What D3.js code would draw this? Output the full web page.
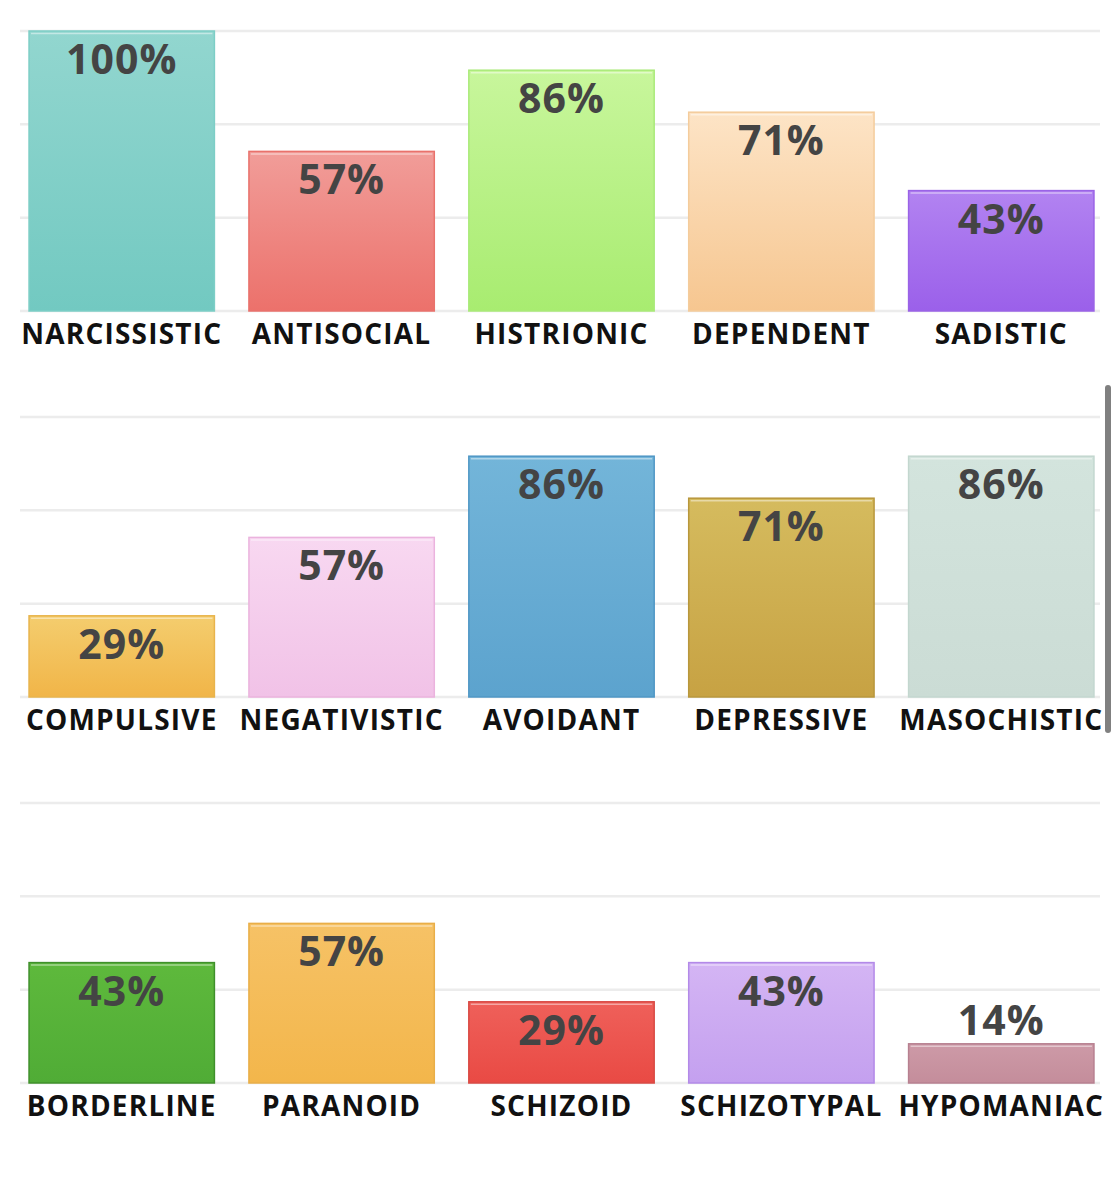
<!DOCTYPE html>
<html>
<head>
<meta charset="utf-8">
<script src="https://cdn.jsdelivr.net/npm/d3@7"></script>
<style>
  body { margin: 0; background: #fff; }
  svg { display: block; }
</style>
</head>
<body>
<svg id="chart"></svg>
<script>
const width = 1120;
const height = 1200;

// three rows of five categories each
const rowCategories = [
    ['NARCISSISTIC', 'ANTISOCIAL', 'HISTRIONIC', 'DEPENDENT', 'SADISTIC'],
    ['COMPULSIVE', 'NEGATIVISTIC', 'AVOIDANT', 'DEPRESSIVE', 'MASOCHISTIC'],
    ['BORDERLINE', 'PARANOID', 'SCHIZOID', 'SCHIZOTYPAL', 'HYPOMANIAC']
];
const rowValues = [
    [100, 57, 86, 71, 43],
    [29, 57, 86, 71, 86],
    [43, 57, 29, 43, 14]
];
// [top colour, bottom colour, border]
const rowColors = [
    [['#92d6cf', '#72c9c1', '#7dcec6'], ['#f19d99', '#ec716b', '#e9726c'], ['#c8f69c', '#a8ec70', '#aaea7a'], ['#fde4c6', '#f6c690', '#f4cc9c'], ['#b283f1', '#9b60ea', '#9a63e6']],
    [['#f4cd6e', '#f1b548', '#e8b44c'], ['#f8d8f1', '#f1c2e7', '#ebb3de'], ['#73b5d9', '#5ca3ce', '#4f97c5'], ['#d5bb5e', '#c7a243', '#b8973c'], ['#d3e4dd', '#cbdcd5', '#c3d7cf']],
    [['#5eb93c', '#50ac36', '#3f902b'], ['#f6c266', '#f3b64b', '#e9ae48'], ['#ef605a', '#e94a44', '#d94a44'], ['#d4b5f4', '#c4a0ef', '#b38ae8'], ['#cd9aa7', '#c48d9b', '#b78090']]
];
const gridTicks = [0, 100 / 3, 200 / 3, 100];
const baselines = [311, 697, 1083];
const plotHeight = 280;

const svg = d3.select('#chart').attr('width', width).attr('height', height);
const defs = svg.append('defs');

const x = d3.scaleBand()
    .domain(d3.range(5))
    .range([12, 1111])
    .paddingInner(0.157)
    .paddingOuter(0.0775);

rowCategories.forEach((cats, r) => {
    const base = baselines[r];
    const y = d3.scaleLinear().domain([0, 100]).range([base, base - plotHeight]);
    const g = svg.append('g');

    // grid
    g.selectAll('.grid')
        .data(gridTicks)
        .enter().append('line')
        .attr('x1', 20).attr('x2', 1100)
        .attr('y1', d => y(d)).attr('y2', d => y(d))
        .style('stroke', '#ececec')
        .style('stroke-width', 2.5);

    const data = cats.map((c, i) => ({ name: c, value: rowValues[r][i], col: rowColors[r][i], i: i }));

    data.forEach(d => {
        const grad = defs.append('linearGradient')
            .attr('id', 'grad' + r + '_' + d.i)
            .attr('x1', 0).attr('y1', 0).attr('x2', 0).attr('y2', 1);
        grad.append('stop').attr('offset', '0%').attr('stop-color', d.col[0]);
        grad.append('stop').attr('offset', '100%').attr('stop-color', d.col[1]);
    });

    g.selectAll('.bar')
        .data(data)
        .enter().append('rect')
        .attr('x', d => x(d.i))
        .attr('y', d => y(d.value))
        .attr('width', x.bandwidth())
        .attr('height', d => base - y(d.value))
        .style('fill', d => 'url(#grad' + r + '_' + d.i + ')')
        .style('stroke', d => d.col[2])
        .style('stroke-width', 1.5);

    // light highlight just under the top edge
    g.selectAll('.hl')
        .data(data)
        .enter().append('line')
        .attr('x1', d => x(d.i) + 2).attr('x2', d => x(d.i) + x.bandwidth() - 2)
        .attr('y1', d => y(d.value) + 2.5).attr('y2', d => y(d.value) + 2.5)
        .style('stroke', 'rgba(255,255,255,0.45)')
        .style('stroke-width', 1.5);

    g.selectAll('.val')
        .data(data)
        .enter().append('text')
        .attr('x', d => x(d.i) + x.bandwidth() / 2)
        .attr('y', d => (base - y(d.value)) < 60 ? y(d.value) - 9 : y(d.value) + 43)
        .attr('text-anchor', 'middle')
        .style('font-family', '"Open Sans", sans-serif')
        .style('font-weight', 700)
        .style('font-size', '41px')
        .style('letter-spacing', '1px')
        .style('fill', '#444')
        .text(d => d.value + '%');

    g.selectAll('.cat')
        .data(data)
        .enter().append('text')
        .attr('x', d => x(d.i) + x.bandwidth() / 2)
        .attr('y', base + 33)
        .attr('text-anchor', 'middle')
        .style('font-family', '"Open Sans", sans-serif')
        .style('font-weight', 700)
        .style('font-size', '28px')
        .style('letter-spacing', '1.2px')
        .style('fill', '#111')
        .text(d => d.name);
});

// scrollbar of the original screenshot
svg.append('rect')
    .attr('x', 1105).attr('y', 385)
    .attr('width', 6).attr('height', 348)
    .attr('rx', 3)
    .style('fill', '#808080');
</script>
</body>
</html>
